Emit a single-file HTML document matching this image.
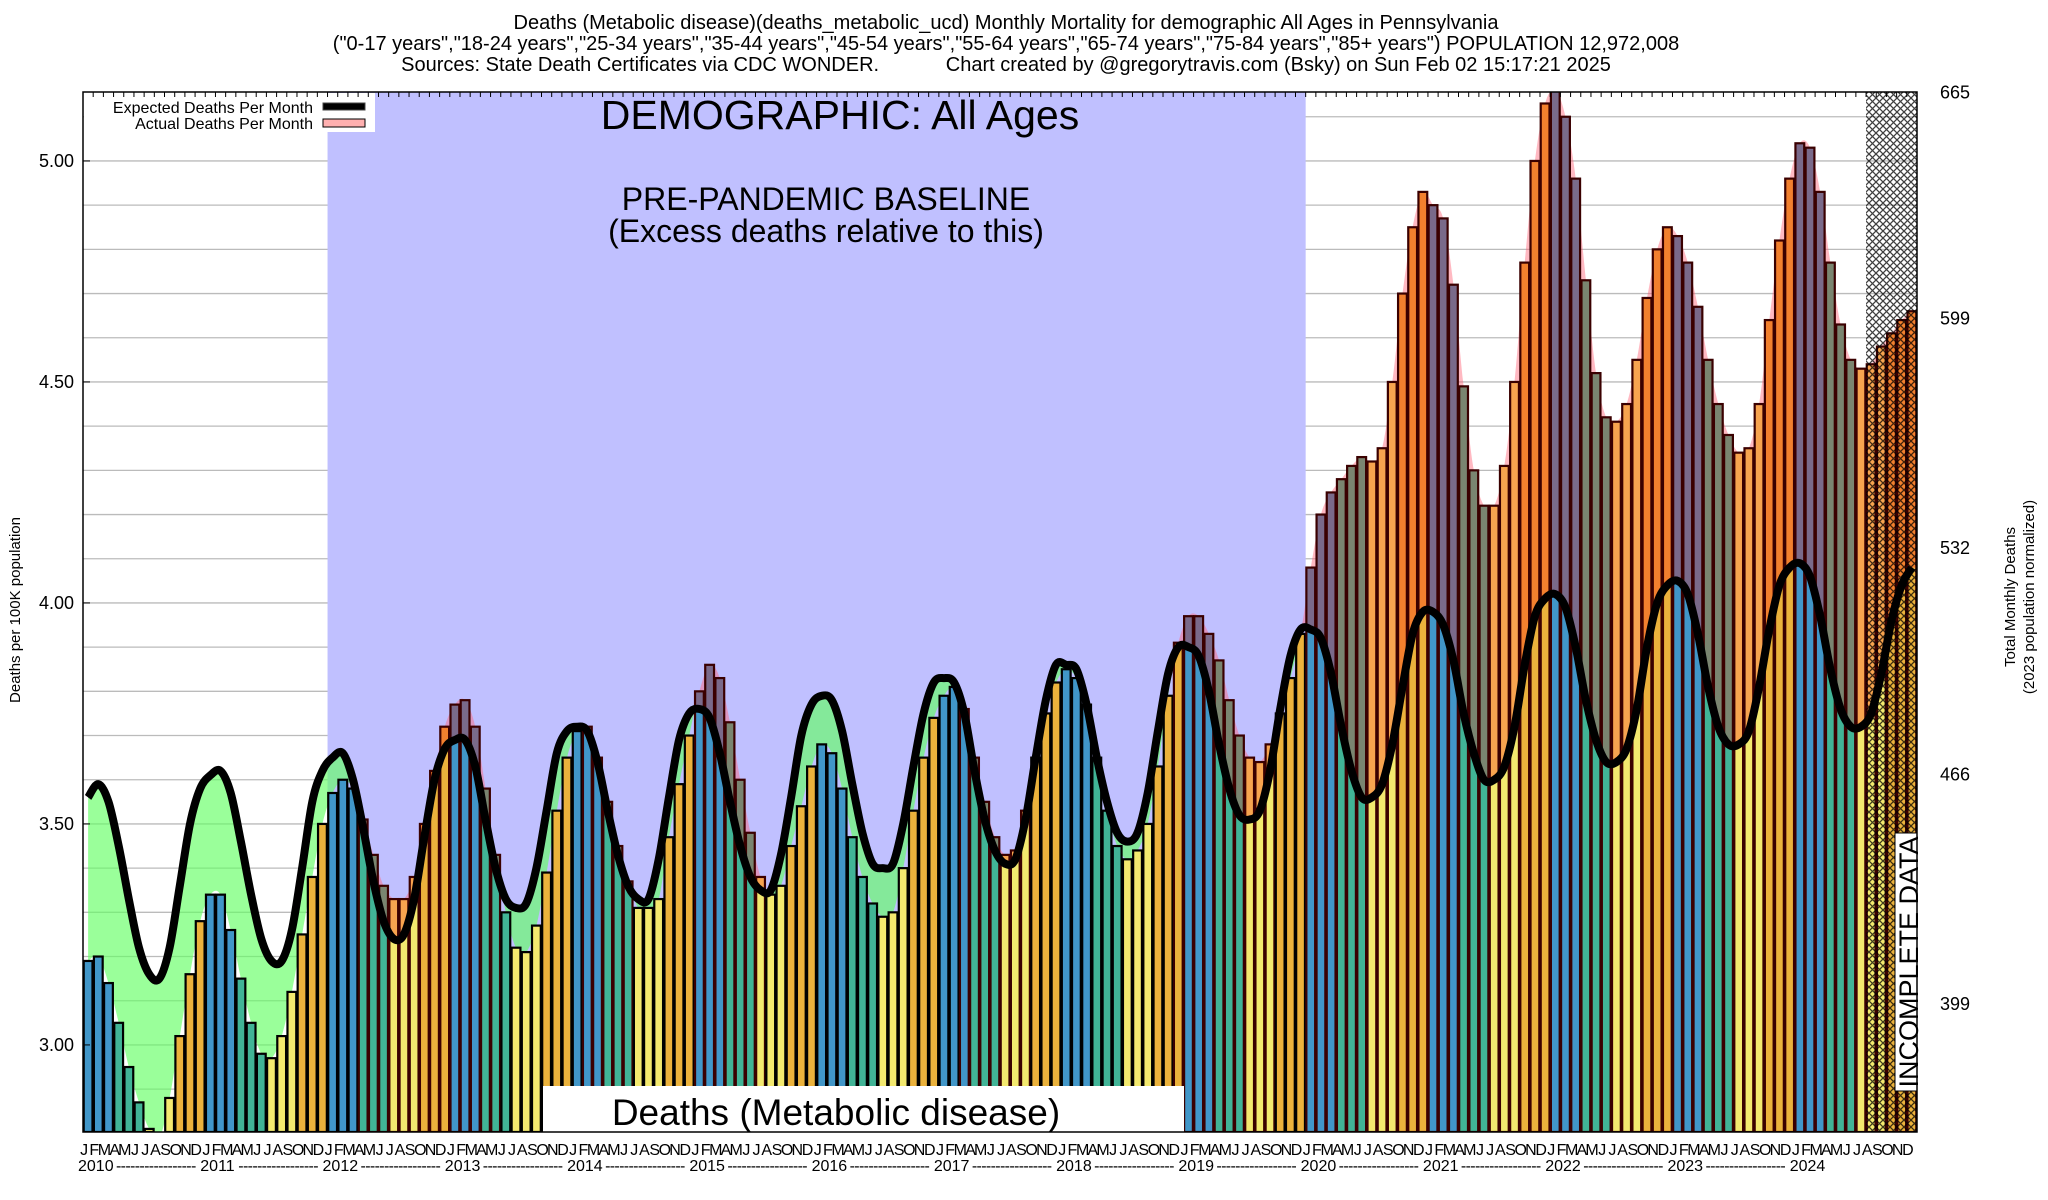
<!DOCTYPE html>
<html><head><meta charset="utf-8"><style>
html,body{margin:0;padding:0;background:#fff;width:2048px;height:1200px;overflow:hidden}
svg text{font-family:"Liberation Sans",sans-serif}
</style></head><body>
<svg id="chart" width="2048" height="1200" xmlns="http://www.w3.org/2000/svg">
<defs>
<pattern id="hatch" width="7" height="7" patternUnits="userSpaceOnUse">
<path d="M0,0L7,7M7,0L0,7" stroke="#000" stroke-width="1.3"/>
</pattern>
</defs>
<g id="titles" font-size="20" text-anchor="middle">
<text x="1006" y="29">Deaths (Metabolic disease)(deaths_metabolic_ucd) Monthly Mortality for demographic All Ages in Pennsylvania</text>
<text x="1006" y="50">("0-17 years","18-24 years","25-34 years","35-44 years","45-54 years","55-64 years","65-74 years","75-84 years","85+ years") POPULATION 12,972,008</text>
<text x="1006" y="71" xml:space="preserve">Sources: State Death Certificates via CDC WONDER.            Chart created by @gregorytravis.com (Bsky) on Sun Feb 02 15:17:21 2025</text>
</g>
<g id="plot"></g>
<text transform="translate(20,610) rotate(-90)" text-anchor="middle" font-size="15">Deaths per 100K population</text>
<text transform="translate(2015,597) rotate(-90)" text-anchor="middle" font-size="15">Total Monthly Deaths</text>
<text transform="translate(2034,597) rotate(-90)" text-anchor="middle" font-size="15">(2023 population normalized)</text>
</svg>
<script>
const years = [2010,2011,2012,2013,2014,2015,2016,2017,2018,2019,2020,2021,2022,2023,2024];
const monthLetters = ["J","F","M","A","M","J","J","A","S","O","N","D"];
const actual = [
3.19,3.20,3.14,3.05,2.95,2.87,2.81,2.79,2.88,3.02,3.16,3.28,
3.34,3.34,3.26,3.15,3.05,2.98,2.97,3.02,3.12,3.25,3.38,3.50,
3.57,3.60,3.58,3.51,3.43,3.36,3.33,3.33,3.38,3.50,3.62,3.72,
3.77,3.78,3.72,3.58,3.43,3.30,3.22,3.21,3.27,3.39,3.53,3.65,
3.71,3.72,3.65,3.55,3.45,3.37,3.31,3.31,3.33,3.47,3.59,3.70,
3.80,3.86,3.83,3.73,3.60,3.48,3.38,3.34,3.36,3.45,3.54,3.63,
3.68,3.66,3.58,3.47,3.38,3.32,3.29,3.30,3.40,3.53,3.65,3.74,
3.79,3.81,3.76,3.65,3.55,3.47,3.43,3.44,3.53,3.65,3.75,3.82,
3.85,3.83,3.77,3.65,3.53,3.45,3.42,3.44,3.50,3.63,3.79,3.91,
3.97,3.97,3.93,3.87,3.78,3.70,3.65,3.64,3.68,3.75,3.83,3.93,
4.08,4.20,4.25,4.28,4.31,4.33,4.32,4.35,4.50,4.70,4.85,4.93,
4.90,4.87,4.72,4.49,4.30,4.22,4.22,4.31,4.50,4.77,5.00,5.13,
5.16,5.10,4.96,4.73,4.52,4.42,4.41,4.45,4.55,4.69,4.80,4.85,
4.83,4.77,4.67,4.55,4.45,4.38,4.34,4.35,4.45,4.64,4.82,4.96,
5.04,5.03,4.93,4.77,4.63,4.55,4.53,4.54,4.58,4.61,4.64,4.66];
const expected = [
3.56,3.59,3.55,3.45,3.33,3.22,3.16,3.15,3.22,3.36,3.50,3.58,
3.61,3.62,3.57,3.46,3.34,3.24,3.19,3.19,3.26,3.40,3.55,3.62,
3.65,3.66,3.60,3.49,3.37,3.28,3.24,3.25,3.33,3.47,3.60,3.67,
3.69,3.69,3.63,3.51,3.40,3.33,3.31,3.32,3.40,3.53,3.66,3.71,
3.72,3.71,3.64,3.53,3.43,3.36,3.33,3.33,3.42,3.56,3.69,3.75,
3.76,3.74,3.66,3.55,3.45,3.38,3.35,3.35,3.43,3.56,3.70,3.77,
3.79,3.78,3.71,3.59,3.48,3.41,3.40,3.41,3.50,3.63,3.75,3.82,
3.83,3.82,3.75,3.62,3.51,3.44,3.41,3.42,3.51,3.65,3.78,3.86,
3.86,3.85,3.77,3.65,3.55,3.48,3.46,3.48,3.57,3.71,3.84,3.90,
3.90,3.88,3.80,3.68,3.58,3.52,3.51,3.53,3.62,3.76,3.88,3.94,
3.94,3.92,3.84,3.72,3.62,3.56,3.56,3.59,3.68,3.81,3.93,3.98,
3.98,3.95,3.87,3.75,3.66,3.60,3.60,3.63,3.72,3.86,3.97,4.01,
4.02,3.99,3.90,3.78,3.69,3.64,3.64,3.67,3.76,3.90,4.00,4.04,
4.05,4.02,3.93,3.81,3.72,3.68,3.68,3.71,3.81,3.94,4.04,4.08,
4.09,4.06,3.97,3.85,3.76,3.72,3.72,3.75,3.84,3.96,4.04,4.08];
const leftTicks = [3.00,3.50,4.00,4.50,5.00];
const rightTicks = [665,599,532,466,399];
const incompleteFrom = 175;

const NS="http://www.w3.org/2000/svg";
const X0=83,X1=1917,Y0=92,Y1=1132,VMIN=2.803,VMAX=5.156,K=129.0;
const N=actual.length, BW=(X1-X0)/N;
function xs(i){return X0+i*BW;}
function xc(i){return X0+(i+0.5)*BW;}
function ys(v){return Y1-(v-VMIN)/(VMAX-VMIN)*(Y1-Y0);}
const plot=document.getElementById('plot');
function mk(tag,attrs,parent){const e=document.createElementNS(NS,tag);for(const k in attrs)e.setAttribute(k,attrs[k]);(parent||plot).appendChild(e);return e;}
function spline(vals){
  const p=vals.map((v,i)=>[xc(i),ys(v)]);
  let d="M"+p[0][0].toFixed(1)+","+p[0][1].toFixed(1);
  for(let i=0;i<p.length-1;i++){
    const a=p[Math.max(0,i-1)],b=p[i],c=p[i+1],e=p[Math.min(p.length-1,i+2)];
    const c1=[b[0]+(c[0]-a[0])/6,b[1]+(c[1]-a[1])/6],c2=[c[0]-(e[0]-b[0])/6,c[1]-(e[1]-b[1])/6];
    d+="C"+c1[0].toFixed(1)+","+c1[1].toFixed(1)+" "+c2[0].toFixed(1)+","+c2[1].toFixed(1)+" "+c[0].toFixed(1)+","+c[1].toFixed(1);
  }
  return d;
}
const defs=document.querySelector('defs');
const cp=mk('clipPath',{id:'plotclip'},defs);mk('rect',{x:X0,y:Y0,width:X1-X0,height:Y1-Y0},cp);
const actD=spline(actual), expD=spline(expected);
const xa=xc(0).toFixed(1), xb=xc(N-1).toFixed(1);
const aboveExp=mk('clipPath',{id:'aboveExp'},defs);mk('path',{d:expD+"L"+X1+","+ys(expected[N-1])+"L"+X1+","+Y0+"L"+X0+","+Y0+"L"+X0+","+ys(expected[0])+"Z"},aboveExp);
const aboveAct=mk('clipPath',{id:'aboveAct'},defs);mk('path',{d:actD+"L"+X1+","+ys(actual[N-1])+"L"+X1+","+Y0+"L"+X0+","+Y0+"L"+X0+","+ys(actual[0])+"Z"},aboveAct);

const g=mk('g',{'clip-path':'url(#plotclip)'});


for(let k=28;k<=51;k++){const v=k/10;const l=mk('line',{x1:X0,x2:X1,y1:ys(v),y2:ys(v),stroke:'#bbb','stroke-width':1.3},g);

}
const base=mk('rect',{x:xs(24),y:Y0,width:xs(120)-xs(24),height:Y1-Y0,fill:'#c0c0ff'},g);


const pink=mk('path',{d:actD+"L"+xb+","+Y1+"L"+xa+","+Y1+"Z",fill:'rgba(255,100,120,0.45)','clip-path':'url(#aboveExp)'},g);


const green=mk('path',{d:expD+"L"+xb+","+Y1+"L"+xa+","+Y1+"Z",fill:'rgba(100,255,100,0.65)','clip-path':'url(#aboveAct)'},g);


const seasonCol=['#4196c8','#41b496','#f3e96f','#ebb23c'];
const excessCol=['#7a6a8a','#7a8570','#f7a44f','#f2802e'];
for(let i=0;i<N;i++){
  const s=Math.floor((i%12)/3);
  const a=actual[i],e=expected[i];
  const bg=mk('g',{},g);
  
  
  const lo=Math.min(a,e);
  mk('rect',{x:xs(i),y:ys(lo),width:BW,height:Y1-ys(lo),fill:seasonCol[s]},bg);
  if(a>e){mk('rect',{x:xs(i),y:ys(a),width:BW,height:ys(e)-ys(a),fill:excessCol[s]},bg);}
  mk('rect',{x:xs(i)+0.7,y:ys(a),width:BW-1.4,height:Y1-ys(a),fill:'none',stroke:a>e?'#3a0000':'#000','stroke-width':2.2},bg);
}
const hx=xs(incompleteFrom);
const hr=mk('rect',{x:hx,y:Y0,width:X1-hx,height:Y1-Y0,fill:'url(#hatch)',opacity:0.75},g);


const el=mk('path',{d:expD,fill:'none',stroke:'#000','stroke-width':8,'stroke-linejoin':'round'},g);


const lb=mk('rect',{x:543,y:1086,width:641,height:50,fill:'#fff'},g);


const lt=mk('text',{x:836,y:1125,'text-anchor':'middle','font-size':37});lt.textContent='Deaths (Metabolic disease)';


const ib=mk('rect',{x:1895,y:833,width:28,height:258,fill:'#fff',stroke:'#000','stroke-width':1},g);


const it=mk('text',{transform:'translate(1918,962) rotate(-90)','text-anchor':'middle','font-size':27});it.textContent='INCOMPLETE DATA';


const t1=mk('text',{x:840,y:129,'text-anchor':'middle','font-size':41});t1.textContent='DEMOGRAPHIC: All Ages';


const t2=mk('text',{x:826,y:210,'text-anchor':'middle','font-size':32});t2.textContent='PRE-PANDEMIC BASELINE';


const t3=mk('text',{x:826,y:242,'text-anchor':'middle','font-size':32});t3.textContent='(Excess deaths relative to this)';


const lg=mk('g',{});


mk('rect',{x:X0+1,y:Y0+1,width:291,height:39,fill:'#fff'},lg);
const l1=mk('text',{x:313,y:113,'text-anchor':'end','font-size':16},lg);l1.textContent='Expected Deaths Per Month';


const l2=mk('text',{x:313,y:129,'text-anchor':'end','font-size':16},lg);l2.textContent='Actual Deaths Per Month';


mk('rect',{x:323,y:103,width:42,height:7,fill:'#000',stroke:'#444','stroke-width':1},lg);
mk('rect',{x:323,y:119,width:42,height:8,fill:'#ffb0b0',stroke:'#000','stroke-width':1},lg);
const fr=mk('rect',{x:X0,y:Y0,width:X1-X0,height:Y1-Y0,fill:'none',stroke:'#000','stroke-width':1.5});


for(let i=0;i<=N;i++){mk('line',{x1:xs(i),x2:xs(i),y1:Y0,y2:Y0+5,stroke:'#000','stroke-width':1});}
leftTicks.forEach(v=>{
  const t=mk('text',{x:74,y:ys(v)+6,'text-anchor':'end','font-size':18});t.textContent=v.toFixed(2);
  
  
  mk('line',{x1:X0,x2:X0+7,y1:ys(v),y2:ys(v),stroke:'#000'});
});
rightTicks.forEach(v=>{
  const t=mk('text',{x:1940,y:ys(v/K)+6,'font-size':18});t.textContent=v;
  
  
});
for(let i=0;i<N;i++){
  const t=mk('text',{x:xc(i)-4,y:1155,'text-anchor':'middle','font-size':16});t.textContent=monthLetters[i%12];
  
  
}
years.forEach((yv,k)=>{
  const x=xs(k*12)-5;
  const t=mk('text',{x:x,y:1171,'font-size':16});t.textContent=yv;
  
  
  if(k<years.length-1){
    const d=mk('text',{x:x+38,y:1171,'font-size':16,textLength:12*BW-42,lengthAdjust:'spacing'});d.textContent='-----------------';
    
    
  }
});
</script>
</body></html>
